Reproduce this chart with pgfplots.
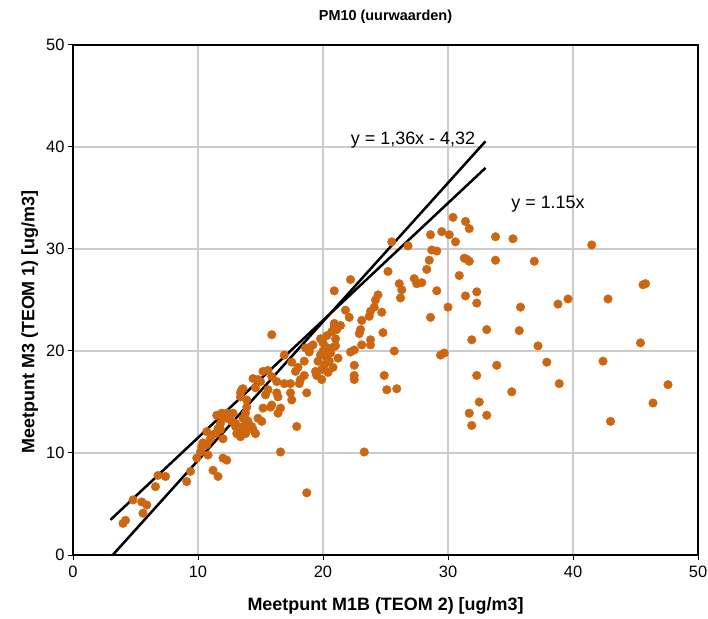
\documentclass[border=0pt]{standalone}
\usepackage{fontspec}
\setmainfont{Liberation Sans}
\usepackage{pgfplots}
\pgfplotsset{compat=1.18}
\definecolor{dotc}{RGB}{204,102,17}
\definecolor{gridc}{RGB}{204,204,204}
\begin{document}
\begin{tikzpicture}
\begin{axis}[
    scale only axis,
    width=625bp, height=510bp,
    xmin=0, xmax=50, ymin=0, ymax=50,
    xtick={0,10,...,50}, ytick={0,10,...,50},
    xtick pos=left, ytick pos=left,
    tick align=outside,
    major tick length=5bp,
    tick style={black, line width=1bp},
    axis line style={black, line width=1.2bp},
    grid=major,
    major grid style={gridc, line width=1.3bp},
    /pgf/number format/assume math mode=true,
    tick label style={font=\fontsize{16.5}{18}\selectfont},
    xticklabel style={yshift=-3bp},
    title={PM10 (uurwaarden)},
    title style={font=\bfseries\fontsize{14.5}{16}\selectfont, at={(axis description cs:0.5,1.043)}, anchor=center},
    xlabel={Meetpunt M1B (TEOM 2) [ug/m3]},
    ylabel={Meetpunt M3 (TEOM 1) [ug/m3]},
    label style={font=\bfseries\fontsize{18}{20}\selectfont},
    xlabel style={at={(axis description cs:0.5,-0.1)}, anchor=center},
    ylabel style={at={(axis description cs:-0.069,0.457)}, anchor=center},
]
\addplot[only marks, mark=*, mark size=4.3bp, mark options={draw=dotc, fill=dotc}] table {
x y
30.4 33.1
31.4 32.7
31.7 32.0
29.5 31.7
30.1 31.4
28.6 31.4
30.6 30.7
33.8 31.2
35.2 31.0
41.5 30.4
28.7 29.9
29.1 29.8
28.5 28.9
28.3 28.0
31.3 29.1
31.7 28.8
31.5 29.0
33.8 28.9
36.9 28.8
30.9 27.4
27.9 26.7
29.1 25.9
45.8 26.6
45.6 26.5
31.4 25.4
32.3 25.8
32.3 24.7
30.0 24.3
35.8 24.3
38.8 24.6
39.6 25.1
42.8 25.1
28.6 23.3
33.1 22.1
35.7 22.0
31.9 21.1
37.2 20.5
45.4 20.8
29.4 19.6
29.7 19.8
33.9 18.6
37.9 18.9
42.4 19.0
32.3 17.6
38.9 16.8
47.6 16.7
35.1 16.0
32.5 15.0
46.4 14.9
31.7 13.9
33.1 13.7
31.9 12.7
43.0 13.1
25.5 30.7
26.8 30.3
25.2 27.8
22.2 27.0
20.9 25.9
27.3 27.1
27.5 26.6
26.1 26.6
26.3 26.0
26.2 25.2
24.4 25.5
24.2 25.0
24.1 24.3
23.8 23.9
23.7 23.4
24.7 23.8
21.8 24.0
22.1 23.3
23.1 23.0
21.4 22.5
20.9 22.4
20.7 21.9
23.0 22.1
22.9 21.7
24.8 21.8
23.8 21.1
23.8 20.6
23.1 20.6
22.5 20.1
22.2 19.9
19.0 20.4
25.7 20.0
22.5 18.6
24.9 17.6
22.5 17.6
19.5 17.6
18.5 17.6
22.5 17.2
25.1 16.2
25.9 16.3
23.3 10.1
16.6 10.1
18.7 6.1
17.9 12.6
18.7 15.9
19.9 17.2
19.8 21.2
20.0 20.8
20.2 20.4
20.0 20.0
19.8 19.6
20.3 19.3
20.5 19.0
20.1 18.6
19.9 18.2
20.4 17.9
20.8 18.4
20.6 19.8
21.0 20.5
20.3 21.5
19.6 19.0
21.2 19.3
20.9 22.7
21.1 22.1
21.0 21.2
20.7 20.3
15.9 21.6
16.9 19.6
17.8 18.0
18.2 17.2
14.4 17.3
14.8 17.2
15.2 18.0
15.6 18.1
15.9 17.5
16.3 17.0
13.5 16.2
13.4 15.5
16.4 15.5
17.4 15.9
17.5 15.2
15.2 14.4
15.8 14.5
16.6 14.4
16.4 13.9
14.8 13.4
15.1 13.1
13.8 13.9
13.6 13.4
14.0 13.1
12.7 13.1
13.0 12.6
13.5 12.3
13.8 11.9
14.4 12.3
11.9 13.9
12.3 13.4
11.8 12.9
10.7 12.1
11.2 11.8
14.3 12.6
14.6 11.9
16.9 16.8
17.4 16.8
18.1 16.8
16.3 15.9
15.9 14.7
15.4 15.7
15.6 16.2
13.9 12.6
17.5 18.9
18.0 18.4
18.5 19.0
18.9 19.9
19.2 20.6
18.6 20.3
19.4 18.0
4.2 3.4
4.0 3.1
4.8 5.4
5.5 5.2
5.9 4.9
5.6 4.1
6.6 6.7
6.8 7.8
7.4 7.7
9.1 7.2
9.4 8.2
9.9 9.5
10.2 10.1
10.3 10.6
10.4 11.0
10.8 9.8
10.7 10.8
11.0 11.4
11.4 11.9
11.6 12.4
11.5 13.7
11.9 13.6
12.3 13.9
12.0 9.5
12.3 9.3
11.2 8.3
11.6 7.7
12.0 11.4
11.8 12.3
12.8 13.9
13.0 12.9
13.1 11.9
13.4 11.6
13.6 12.6
13.9 13.2
13.4 15.9
13.6 16.3
13.9 15.2
13.9 14.5
14.6 16.4
15.0 17.0
};
% trend lines
\addplot[black, line width=2.5bp] coordinates {(3.18,0) (33,40.56)};
\addplot[black, line width=2.5bp] coordinates {(3.0,3.45) (33,37.95)};
\node[font=\fontsize{18}{20}\selectfont] at (axis cs:27.2,40.7) {y = 1,36x - 4,32};
\node[font=\fontsize{18}{20}\selectfont] at (axis cs:38.0,34.4) {y = 1.15x};
\end{axis}
\pgfresetboundingbox
\path[use as bounding box] (-73bp,-64bp) rectangle (635bp,555bp);
\end{tikzpicture}
\end{document}
